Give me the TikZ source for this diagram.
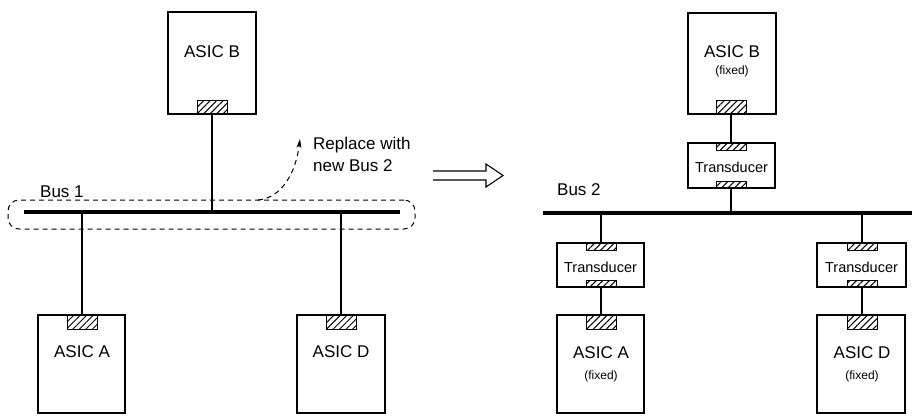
\documentclass[tikz,border=0pt]{standalone}
\usepackage{fontspec}
\setmainfont{Liberation Sans}
\usetikzlibrary{arrows.meta,patterns.meta}
\begin{document}
\begin{tikzpicture}[x=1pt,y=-1pt,
 box/.style={draw, line width=1.4pt, inner sep=0pt},
 port/.style={draw, line width=1pt, inner sep=0pt, minimum width=30pt, pattern={Lines[angle=45,distance=4.6pt,line width=1pt]}},
 bigport/.style={port, minimum height=14pt},
 smallport/.style={port, minimum height=7pt},
 wire/.style={line width=1.1pt},
 busline/.style={line width=3.4pt},
 lbl/.style={font=\fontsize{17}{20}\selectfont, inner sep=0pt},
 tlbl/.style={font=\fontsize{14.5}{16}\selectfont, inner sep=0pt},
 flbl/.style={font=\fontsize{12}{14}\selectfont, inner sep=0pt},
 dashline/.style={line width=1pt, dash pattern=on 5pt off 4pt},
]
\useasboundingbox (0,0) rectangle (912,415);

% ---------------- Left: original system ----------------
\node[box, minimum width=88pt, minimum height=102pt] (B1) at (212,63) {};
\node[bigport] (pB1) at (212,107) {};
\node[lbl] (tB1) at (212,52) {ASIC B};

\node[box, minimum width=87pt, minimum height=98pt] (A1) at (81.5,364) {};
\node[bigport] (pA1) at (82,322) {};
\node[lbl] (tA1) at (82,352) {ASIC A};

\node[box, minimum width=88pt, minimum height=98pt] (D1) at (341,364) {};
\node[bigport] (pD1) at (341,322) {};
\node[lbl] (tD1) at (341,352) {ASIC D};

\coordinate (bus1l) at (24,212);
\coordinate (bus1r) at (400,212);
\draw[busline] (bus1l) -- (bus1r);
\node[lbl, anchor=west] (bus1lbl) at (40,192) {Bus 1};

\draw[wire] (pB1.south) -- (pB1.south |- bus1l);
\draw[wire] (pA1.north |- bus1l) -- (pA1.north);
\draw[wire] (pD1.north |- bus1l) -- (pD1.north);

\node[draw, dashline, rounded corners=11pt, minimum width=407pt, minimum height=29pt, inner sep=0pt] (sel) at (211.5,214.5) {};
\coordinate (dstart) at (258,200);
\coordinate (dend) at (300,139);
\draw[dashline, -{Stealth[length=9pt,width=5pt]}] (dstart) .. controls (282,198) and (296,172) .. (dend);
\node[lbl, anchor=north west, align=left, font=\fontsize{17}{22}\selectfont] (repl) at (313,137) {Replace with\\new Bus 2};

% ---------------- Transition arrow ----------------
\draw[line width=1.1pt, line join=miter] (433,171) -- (486,171) -- (486,164) -- (503,175.5) -- (486,187) -- (486,180) -- (433,180);

% ---------------- Right: new system ----------------
\node[box, minimum width=88pt, minimum height=101pt] (B2) at (732,63.5) {};
\node[bigport] (pB2) at (731,107) {};
\node[lbl] (tB2) at (732,52) {ASIC B};
\node[flbl] (fB2) at (732,71) {(fixed)};

\node[box, minimum width=87pt, minimum height=45pt] (TB) at (731.5,165.5) {};
\node[smallport] (TBt) at (731,146.5) {};
\node[smallport] (TBb) at (731,184.5) {};
\node[tlbl] (tTB) at (731.5,167) {Transducer};

\coordinate (bus2l) at (543,213);
\coordinate (bus2r) at (912,213);
\draw[busline] (bus2l) -- (bus2r);
\node[lbl, anchor=west] (bus2lbl) at (557,190) {Bus 2};

\node[box, minimum width=87pt, minimum height=44pt] (TA) at (600.5,265) {};
\node[smallport] (TAt) at (601,246.5) {};
\node[smallport] (TAb) at (601,283.5) {};
\node[tlbl] (tTA) at (600.5,267) {Transducer};

\node[box, minimum width=87pt, minimum height=98pt] (A2) at (600.5,364) {};
\node[bigport] (pA2) at (601,322) {};
\node[lbl] (tA2) at (601,353) {ASIC A};
\node[flbl] (fA2) at (601,376) {(fixed)};

\node[box, minimum width=89pt, minimum height=44pt] (TD) at (861.5,265) {};
\node[smallport] (TDt) at (862,246.5) {};
\node[smallport] (TDb) at (862,283.5) {};
\node[tlbl] (tTD) at (861.5,267) {Transducer};

\node[box, minimum width=88pt, minimum height=98pt] (D2) at (861,364) {};
\node[bigport] (pD2) at (862,322) {};
\node[lbl] (tD2) at (862,353) {ASIC D};
\node[flbl] (fD2) at (862,376) {(fixed)};

\draw[wire] (pB2.south) -- (TBt.north);
\draw[wire] (TBb.south) -- (TBb.south |- bus2l);
\draw[wire] (TAt.north |- bus2l) -- (TAt.north);
\draw[wire] (TAb.south) -- (pA2.north);
\draw[wire] (TDt.north |- bus2l) -- (TDt.north);
\draw[wire] (TDb.south) -- (pD2.north);
\end{tikzpicture}
\end{document}
